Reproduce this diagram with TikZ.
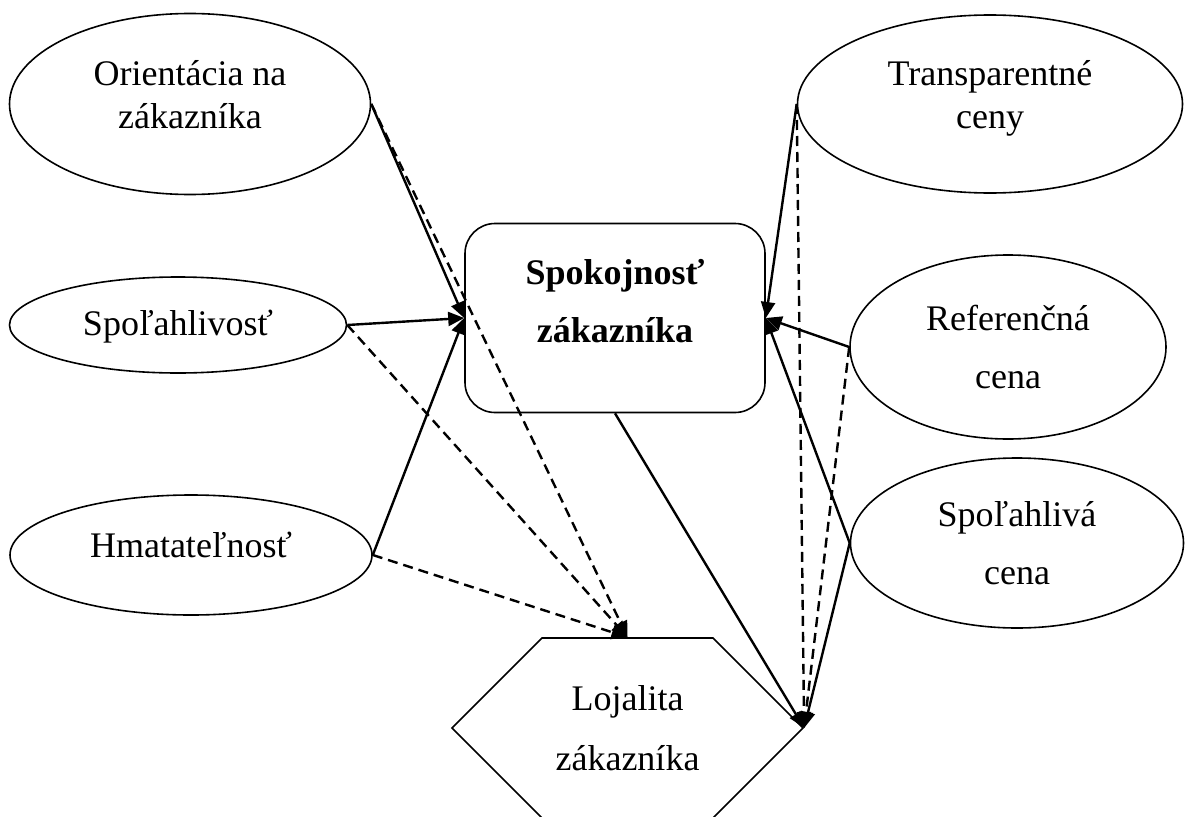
\documentclass[tikz,border=0pt]{standalone}
\usepackage{fontspec}
\setmainfont{Liberation Serif}
\usetikzlibrary{arrows.meta,shapes.geometric,shapes.symbols}
\tikzset{
  oval/.style={ellipse,draw,line width=1.6pt,inner sep=0pt,align=center,font=\fontsize{36}{43}\selectfont},
  wideoval/.style={oval,font=\fontsize{36}{58}\selectfont},
  satbox/.style={draw,rounded corners=30pt,line width=1.6pt,minimum width=300pt,minimum height=189pt},
  loybox/.style={signal,signal to=west and east,signal pointer angle=90,draw,line width=1.6pt,align=center,font=\fontsize{36}{60}\selectfont,minimum width=351pt,minimum height=180pt,inner sep=0pt},
  arr/.style={-{Triangle[length=16pt,width=14pt]},line width=2.4pt},
  darr/.style={arr,dash pattern=on 10pt off 6pt},
}
\begin{document}
\begin{tikzpicture}[x=1pt,y=-1pt]
  \useasboundingbox (0,0) rectangle (1185,816);
  % service quality
  \node[oval,minimum width=361pt,minimum height=181pt,text height=75pt,text depth=27pt] (ori) at (190,104) {Orientácia na\\zákazníka};
  \node[oval,minimum width=337pt,minimum height=96pt,text height=30pt,text depth=10pt] (spol) at (178,325) {Spoľahlivosť};
  \node[oval,minimum width=362pt,minimum height=120pt,text height=30pt,text depth=26pt] (hmat) at (191,555) {Hmatateľnosť};
  % price perception
  \node[oval,minimum width=385pt,minimum height=178pt,text height=75pt,text depth=27pt] (trans) at (990,104) {Transparentné\\ceny};
  \node[wideoval,minimum width=316pt,minimum height=184pt] (ref) at (1008,347) {Referenčná\\cena};
  \node[wideoval,minimum width=333pt,minimum height=170pt] (sc) at (1017,543) {Spoľahlivá\\cena};
  % outcomes
  \node[satbox] (spok) at (615,318) {};
  \node[align=center,font=\bfseries\fontsize{36}{58}\selectfont] (spoktxt) at (615,301) {Spokojnosť\\zákazníka};
  \node[loybox] (loj) at (627.5,728) {Lojalita\\zákazníka};
  \foreach \a in {ori,spol,hmat}{
    \draw[arr] (\a.east) -- (spok.west);
    \draw[darr] (\a.east) -- (loj.north);
  }
  \foreach \a in {trans,ref,sc}{\draw[arr] (\a.west) -- (spok.east);}
  \foreach \a in {trans,ref}{\draw[darr] (\a.west) -- (loj.east);}
  \draw[arr] (sc.west) -- (loj.east);
  \draw[arr] (spok.south) -- (loj.east);
\end{tikzpicture}
\end{document}
